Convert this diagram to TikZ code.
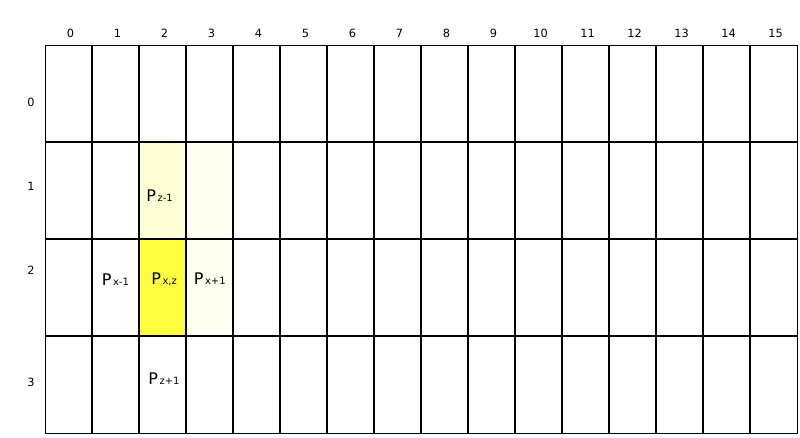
\documentclass[tikz,border=0pt]{standalone}
\usepackage{fontspec}
\setmainfont{DejaVu Sans}
\definecolor{cellA}{HTML}{FFFFD6}
\definecolor{cellB}{HTML}{FFFFF2}
\definecolor{cellC}{HTML}{FFFF40}
\newcommand{\Plab}[1]{{\fontsize{12}{12}\selectfont P}\kern1.2pt{\fontsize{7.5}{9}\selectfont #1}}
\begin{document}
\begin{tikzpicture}[x=0.75pt,y=-0.75pt,
  gridline/.style={line width=1.5pt},
  border/.style={line width=0.75pt},
  num/.style={font=\fontsize{8.5}{10}\selectfont, inner sep=0pt},
  plabel/.style={inner sep=0pt, anchor=base west}]
\useasboundingbox (0,0) rectangle (800,437);
\fill[white] (0,0) rectangle (800,437);
% shaded cells
\fill[cellA] (139,142) rectangle (186,239);
\fill[cellB] (186,142) rectangle (233,336);
\fill[cellC] (139,239) rectangle (186,336);
% grid
\foreach \i in {1,...,15} \draw[gridline] (45+47*\i,45) -- (45+47*\i,433);
\foreach \j in {1,...,3} \draw[gridline] (45,45+97*\j) -- (797,45+97*\j);
\draw[border] (45,45) rectangle (797,433);
% column numbers
\foreach \i in {0,...,15} \node[num] (c\i) at (45+47*\i+25.5,33) {\i};
% row numbers
\node[num] (r0) at (31,102) {0};
\node[num] (r1) at (31,186.7) {1};
\node[num] (r2) at (31,270.7) {2};
\node[num] (r3) at (31,382.3) {3};
% labels
\node[plabel] (pzm) at (146,201) {\Plab{z-1}};
\node[plabel] (pxm) at (101.5,285) {\Plab{x-1}};
\node[plabel] (pxz) at (151,284.3) {\Plab{x,z}};
\node[plabel] (pxp) at (193.5,284.3) {\Plab{x+1}};
\node[plabel] (pzp) at (148,384) {\Plab{z+1}};
\end{tikzpicture}
\end{document}
